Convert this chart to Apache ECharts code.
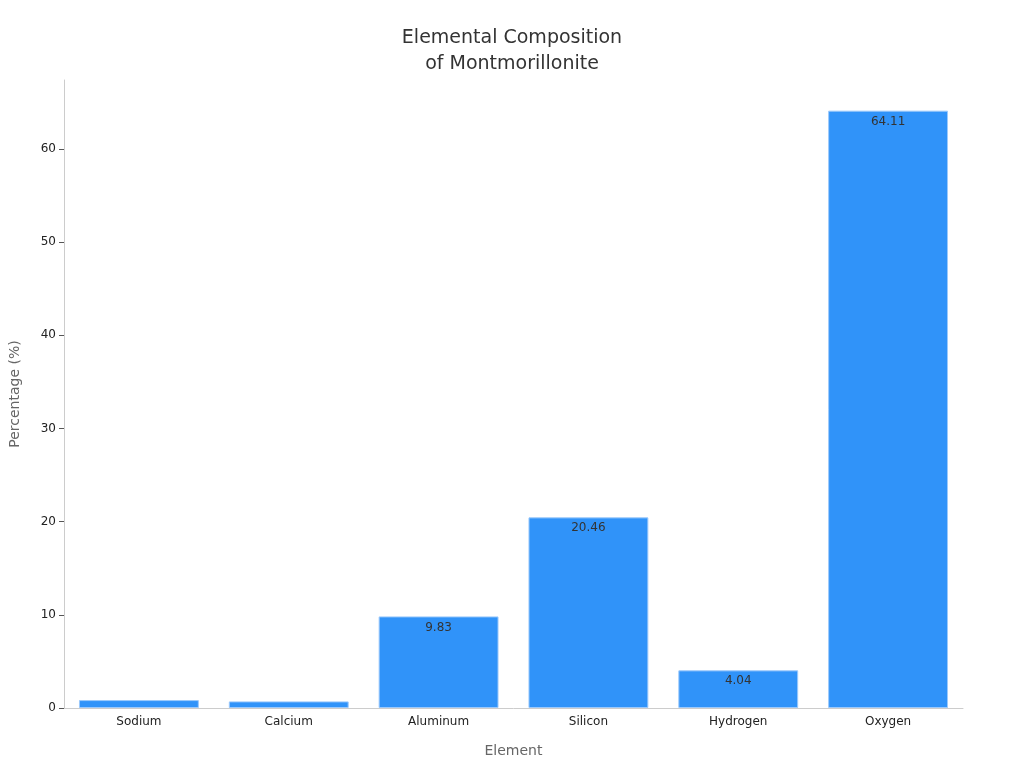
<!DOCTYPE html>
<html>
<head>
<meta charset="utf-8">
<script src="https://cdn.jsdelivr.net/npm/echarts@6/dist/echarts.min.js"></script>
</head>
<body style="margin:0">
<div id="main" style="width:1024px;height:768px;"></div>
<script type="text/javascript">
    var categories = ['Sodium', 'Calcium', 'Aluminum', 'Silicon', 'Hydrogen', 'Oxygen'];
    var values = [0.85, 0.71, 9.83, 20.46, 4.04, 64.11];

    var myChart = echarts.init(document.getElementById('main'));
    myChart.setOption({
        textStyle: {fontFamily: 'DejaVu Sans'},
        title: {
            text: 'Elemental Composition\nof Montmorillonite',
            left: 'center',
            top: 20,
            textStyle: {fontSize: 19, fontWeight: 'normal', color: '#333', lineHeight: 26}
        },
        grid: {left: 60, right: 61, top: 80, bottom: 60},
        xAxis: {
            type: 'category',
            data: categories,
            name: 'Element',
            nameLocation: 'middle',
            nameGap: 36,
            nameTextStyle: {fontSize: 14, color: '#666'},
            axisLine: {lineStyle: {color: '#ccc'}},
            axisTick: {alignWithLabel: true, lineStyle: {color: '#555'}},
            axisLabel: {color: '#222', fontSize: 12}
        },
        yAxis: {
            type: 'value',
            min: 0,
            max: 67.4,
            interval: 10,
            name: 'Percentage (%)',
            nameLocation: 'middle',
            nameGap: 42,
            nameTextStyle: {fontSize: 14, color: '#666'},
            axisLine: {show: true, lineStyle: {color: '#ccc'}},
            axisTick: {show: true, lineStyle: {color: '#555'}},
            axisLabel: {color: '#222', fontSize: 12, showMaxLabel: false},
            splitLine: {show: false}
        },
        series: [{
            type: 'bar',
            data: values,
            barCategoryGap: '20%',
            itemStyle: {color: '#3093f9', borderColor: '#9cc9fb', borderWidth: 1},
            label: {
                show: true,
                position: 'insideTop',
                color: '#333',
                fontSize: 12,
                formatter: function (p) { return p.value >= 2 ? p.value : ''; }
            }
        }]
    });
</script>
</body>
</html>
